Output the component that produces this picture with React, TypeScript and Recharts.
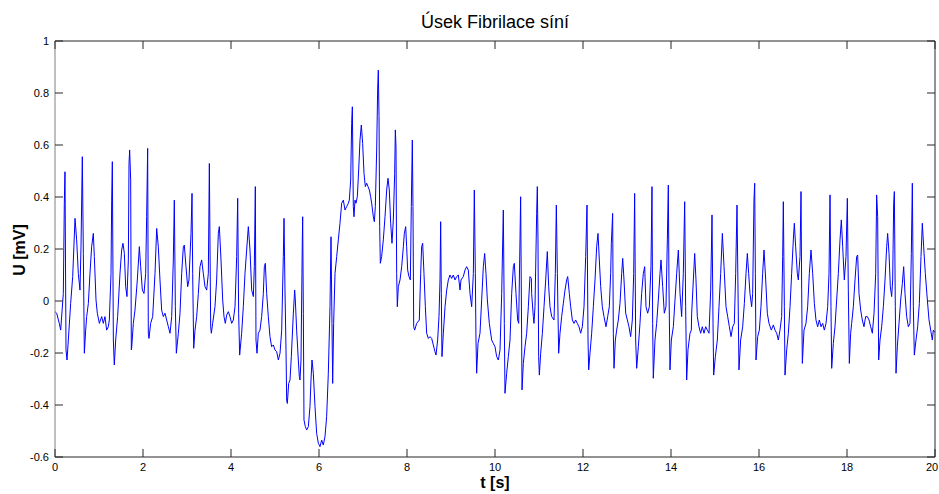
import React from 'react';
import { LineChart, Line, XAxis, YAxis, ReferenceLine } from 'recharts';

const title = 'Úsek Fibrilace síní';
const xLabel = 't [s]';
const yLabel = 'U [mV]';
const xTicks = [0, 2, 4, 6, 8, 10, 12, 14, 16, 18, 20];
const yTicks = [-0.6, -0.4, -0.2, 0, 0.2, 0.4, 0.6, 0.8, 1];

// [t (s), U (mV)]
const seg0: [number, number][] = [
  [0, -0.041], [0.038, -0.047], [0.098, -0.086], [0.129, -0.112], [0.189, 0.029], [0.212, 0.376], [0.227, 0.497],
  [0.25, -0.188], [0.273, -0.227], [0.303, -0.15], [0.356, -0.009], [0.402, 0.094], [0.455, 0.318], [0.492, 0.235],
  [0.53, 0.106], [0.568, 0.042], [0.591, 0.209], [0.621, 0.555], [0.644, 0.183], [0.667, -0.201], [0.697, -0.112],
  [0.72, -0.06], [0.758, -0.009], [0.795, 0.106], [0.833, 0.209], [0.871, 0.26], [0.894, 0.171], [0.932, 0.004],
  [0.962, -0.047], [1.008, -0.086], [1.061, -0.06], [1.098, -0.086], [1.136, -0.06], [1.174, -0.112], [1.212, -0.099],
  [1.235, -0.073], [1.273, 0.106], [1.288, 0.388], [1.303, 0.536], [1.326, -0.15], [1.348, -0.246], [1.379, -0.15],
  [1.424, -0.06], [1.477, 0.106], [1.515, 0.196], [1.545, 0.222], [1.576, 0.183], [1.606, 0.055], [1.636, 0.017],
  [1.667, 0.158], [1.682, 0.529], [1.697, 0.581], [1.72, 0.465], [1.735, -0.188],
];
const seg1: [number, number][] = [
  [1.742, -0.182], [1.78, -0.086], [1.818, -0.035], [1.871, 0.081], [1.917, 0.209], [1.947, 0.132], [1.985, 0.042],
  [2.023, 0.029], [2.061, 0.106], [2.083, 0.324], [2.106, 0.587], [2.121, -0.124], [2.136, -0.144], [2.174, -0.086],
  [2.22, -0.06], [2.273, 0.106], [2.311, 0.279], [2.348, 0.209], [2.386, 0.081], [2.424, -0.035], [2.462, -0.06],
  [2.5, -0.047], [2.538, -0.073], [2.576, -0.099], [2.614, -0.124], [2.652, -0.06], [2.689, 0.158], [2.712, 0.388],
  [2.735, -0.022], [2.758, -0.201], [2.803, -0.124], [2.841, -0.047], [2.879, 0.106], [2.917, 0.209], [2.939, 0.215],
  [2.977, 0.132], [3.015, 0.055], [3.045, 0.081], [3.091, 0.26], [3.114, 0.414], [3.129, 0.106], [3.152, -0.182],
  [3.182, -0.112], [3.22, -0.06], [3.258, 0.029], [3.295, 0.132], [3.333, 0.158], [3.371, 0.106], [3.409, 0.055],
  [3.447, 0.042], [3.485, 0.106], [3.508, 0.529], [3.538, -0.099], [3.553, -0.124],
];
const seg2: [number, number][] = [
  [3.583, -0.086], [3.636, -0.022], [3.674, 0.081], [3.712, 0.26], [3.735, 0.286], [3.773, 0.158], [3.811, 0.004],
  [3.841, -0.06], [3.871, -0.086], [3.902, -0.054], [3.939, -0.041], [3.977, -0.06], [4.015, -0.086], [4.053, -0.073],
  [4.091, -0.022], [4.129, 0.171], [4.152, 0.395], [4.174, -0.047], [4.197, -0.208], [4.242, -0.124], [4.28, -0.022],
  [4.318, 0.106], [4.356, 0.196], [4.394, 0.286], [4.432, 0.196], [4.47, 0.042], [4.508, 0.017], [4.53, 0.132],
  [4.553, 0.44], [4.568, -0.15], [4.591, -0.201], [4.621, -0.124], [4.659, -0.112], [4.697, -0.06], [4.735, 0.029],
  [4.758, 0.132], [4.78, 0.145], [4.811, 0.029], [4.848, -0.06], [4.886, -0.137], [4.924, -0.176], [4.962, -0.169],
  [5.0, -0.188], [5.038, -0.195], [5.076, -0.227], [5.114, -0.201], [5.152, -0.112], [5.189, 0.171], [5.205, 0.318],
  [5.227, 0.042], [5.25, -0.188], [5.265, -0.381], [5.28, -0.394], [5.311, -0.317], [5.341, -0.304], [5.371, -0.214],
];
const seg3: [number, number][] = [
  [5.417, -0.047], [5.447, 0.042], [5.462, 0.004], [5.492, -0.112], [5.53, -0.227], [5.553, -0.291], [5.568, -0.304],
  [5.591, -0.227], [5.621, 0.235], [5.629, 0.324], [5.644, -0.047], [5.659, -0.458], [5.689, -0.483], [5.72, -0.496],
  [5.758, -0.483], [5.795, -0.406], [5.818, -0.304], [5.841, -0.227], [5.871, -0.278], [5.909, -0.406], [5.947, -0.509],
  [5.985, -0.547], [6.023, -0.56], [6.061, -0.535], [6.098, -0.554], [6.136, -0.522], [6.174, -0.445], [6.212, -0.278],
  [6.25, -0.022], [6.273, 0.247], [6.295, -0.086], [6.311, -0.317], [6.333, -0.086], [6.364, 0.106], [6.402, 0.171],
  [6.439, 0.235], [6.477, 0.299], [6.515, 0.376], [6.553, 0.388], [6.591, 0.35], [6.629, 0.363], [6.667, 0.376],
  [6.689, 0.388], [6.72, 0.465], [6.742, 0.683], [6.758, 0.747], [6.78, 0.363], [6.795, 0.324], [6.818, 0.388],
  [6.841, 0.376], [6.871, 0.401], [6.902, 0.504], [6.932, 0.619], [6.962, 0.677], [6.992, 0.606], [7.023, 0.491],
  [7.053, 0.44], [7.083, 0.453], [7.114, 0.44], [7.144, 0.427], [7.174, 0.401], [7.197, 0.376],
];
const seg4: [number, number][] = [
  [7.235, 0.324], [7.258, 0.305], [7.28, 0.363], [7.311, 0.581], [7.333, 0.812], [7.348, 0.888], [7.364, 0.709],
  [7.379, 0.286], [7.394, 0.145], [7.424, 0.171], [7.462, 0.235], [7.5, 0.324], [7.538, 0.427], [7.568, 0.472],
  [7.598, 0.427], [7.629, 0.299], [7.659, 0.222], [7.689, 0.312], [7.72, 0.491], [7.735, 0.658], [7.75, 0.594],
  [7.765, 0.106], [7.78, -0.022], [7.803, 0.055], [7.841, 0.081], [7.879, 0.132], [7.917, 0.209], [7.939, 0.26],
  [7.97, 0.286], [7.992, 0.209], [8.015, 0.119], [8.045, 0.094], [8.076, 0.081], [8.098, 0.363], [8.121, 0.619],
  [8.136, 0.363], [8.152, -0.099], [8.174, -0.112], [8.22, -0.086], [8.28, -0.073], [8.311, 0.106], [8.333, 0.209],
  [8.356, 0.222], [8.386, 0.106], [8.417, -0.022], [8.447, -0.124], [8.485, -0.144], [8.523, -0.137], [8.561, -0.144],
  [8.598, -0.169], [8.636, -0.195], [8.659, -0.208], [8.697, -0.15], [8.727, -0.06], [8.75, 0.081], [8.765, 0.305],
  [8.78, 0.029], [8.795, -0.214], [8.826, -0.124], [8.864, -0.022], [8.902, 0.042], [8.939, 0.081], [8.977, 0.1],
];
const seg5: [number, number][] = [
  [9.015, 0.087], [9.053, 0.1], [9.091, 0.081], [9.129, 0.094], [9.167, 0.1], [9.205, 0.042], [9.227, 0.081],
  [9.28, 0.094], [9.318, 0.119], [9.356, 0.132], [9.394, 0.119], [9.432, 0.029], [9.47, -0.022], [9.508, 0.106],
  [9.53, 0.427], [9.553, 0.106], [9.568, -0.15], [9.583, -0.278], [9.614, -0.163], [9.659, -0.124], [9.697, 0.004],
  [9.735, 0.132], [9.765, 0.183], [9.795, 0.106], [9.826, 0.004], [9.871, -0.086], [9.924, -0.15], [9.962, -0.163],
  [10.0, -0.176], [10.038, -0.214], [10.076, -0.227], [10.114, -0.188], [10.152, 0.029], [10.189, 0.35],
  [10.212, -0.086], [10.227, -0.355], [10.265, -0.278], [10.303, -0.214], [10.341, -0.15], [10.379, 0.029],
  [10.417, 0.132], [10.439, 0.145], [10.477, 0.029], [10.515, -0.073], [10.538, -0.086], [10.568, 0.235],
  [10.583, 0.401], [10.598, 0.042], [10.614, -0.342], [10.644, -0.24], [10.682, -0.176], [10.72, -0.124],
  [10.758, -0.022], [10.795, 0.094], [10.826, 0.087],
];
const seg6: [number, number][] = [
  [10.833, 0.029], [10.871, -0.06], [10.886, -0.086], [10.909, -0.022], [10.947, 0.337], [10.962, 0.44],
  [10.977, 0.235], [10.992, -0.214], [11.008, -0.285], [11.038, -0.201], [11.076, -0.124], [11.114, -0.022],
  [11.152, 0.081], [11.189, 0.19], [11.22, 0.055], [11.25, -0.022], [11.288, -0.06], [11.341, -0.073], [11.371, 0.106],
  [11.394, 0.369], [11.417, 0.106], [11.447, -0.201], [11.477, -0.124], [11.515, -0.06], [11.553, -0.009],
  [11.591, 0.042], [11.629, 0.081], [11.652, 0.094], [11.689, 0.029], [11.72, -0.022], [11.758, -0.073],
  [11.795, -0.086], [11.833, -0.073], [11.871, -0.086], [11.909, -0.099], [11.947, -0.124], [11.985, -0.099],
  [12.023, -0.022], [12.061, 0.171], [12.091, 0.369], [12.114, -0.15], [12.129, -0.265], [12.159, -0.201],
  [12.197, -0.124], [12.235, -0.022], [12.273, 0.081], [12.311, 0.209], [12.341, 0.26], [12.371, 0.158],
  [12.402, 0.055], [12.439, -0.022], [12.477, -0.06], [12.523, -0.099], [12.561, -0.06], [12.598, -0.022],
  [12.629, 0.106], [12.644, 0.222],
];
const seg7: [number, number][] = [
  [12.674, 0.337], [12.689, -0.124], [12.705, -0.259], [12.735, -0.15], [12.765, -0.112], [12.803, -0.073],
  [12.841, -0.009], [12.879, 0.106], [12.902, 0.164], [12.932, 0.081], [12.97, -0.047], [13.008, -0.073],
  [13.045, -0.099], [13.083, -0.137], [13.121, -0.073], [13.152, 0.106], [13.174, 0.414], [13.197, -0.15],
  [13.22, -0.259], [13.258, -0.176], [13.295, -0.086], [13.333, 0.029], [13.371, 0.106], [13.402, 0.132],
  [13.432, -0.022], [13.47, -0.047], [13.508, -0.022], [13.545, 0.132], [13.568, 0.44], [13.583, -0.086],
  [13.598, -0.297], [13.636, -0.15], [13.674, -0.086], [13.712, 0.004], [13.75, 0.106], [13.773, 0.158],
  [13.811, 0.055], [13.848, -0.047], [13.886, -0.022], [13.917, 0.235], [13.939, 0.446], [13.955, 0.042],
  [13.977, -0.265], [14.008, -0.15], [14.053, -0.099], [14.091, 0.004], [14.129, 0.106], [14.167, 0.196],
  [14.205, 0.029], [14.242, -0.06], [14.28, 0.106], [14.311, 0.382], [14.333, -0.022], [14.356, -0.304],
  [14.386, -0.188], [14.432, -0.124], [14.462, -0.112],
];
const seg8: [number, number][] = [
  [14.47, -0.047], [14.508, 0.081], [14.538, 0.183], [14.568, 0.081], [14.598, -0.06], [14.636, -0.099],
  [14.674, -0.124], [14.712, -0.099], [14.75, -0.124], [14.788, -0.099], [14.826, -0.112], [14.864, -0.124],
  [14.902, 0.042], [14.932, 0.331], [14.955, -0.086], [14.97, -0.285], [15.008, -0.214], [15.053, -0.15],
  [15.091, -0.022], [15.129, 0.106], [15.167, 0.26], [15.205, 0.132], [15.25, -0.022], [15.288, -0.06],
  [15.326, -0.099], [15.364, -0.137], [15.402, -0.099], [15.439, -0.086], [15.47, 0.106], [15.5, 0.369],
  [15.523, 0.042], [15.545, -0.265], [15.583, -0.15], [15.629, -0.099], [15.667, -0.009], [15.705, 0.106],
  [15.735, 0.183], [15.765, 0.106], [15.795, 0.029], [15.833, -0.022], [15.856, 0.029], [15.886, 0.388],
  [15.902, 0.453], [15.917, 0.106], [15.932, -0.227], [15.97, -0.137], [16.008, -0.112], [16.045, -0.022],
  [16.083, 0.106], [16.114, 0.196], [16.152, 0.081], [16.189, -0.047], [16.227, -0.086], [16.28, -0.112],
];
const seg9: [number, number][] = [
  [16.326, -0.092], [16.364, -0.112], [16.402, -0.124], [16.439, -0.15], [16.477, -0.112], [16.515, -0.06],
  [16.538, 0.171], [16.553, 0.382], [16.576, -0.022], [16.591, -0.285], [16.629, -0.188], [16.667, -0.124],
  [16.705, -0.022], [16.742, 0.106], [16.78, 0.235], [16.803, 0.299], [16.833, 0.209], [16.871, 0.106],
  [16.894, 0.081], [16.932, 0.171], [16.955, 0.421], [16.97, 0.042], [16.985, -0.24], [17.023, -0.112],
  [17.068, -0.086], [17.106, -0.022], [17.144, 0.106], [17.182, 0.196], [17.22, 0.106], [17.258, -0.009],
  [17.295, -0.073], [17.333, -0.099], [17.371, -0.073], [17.409, -0.099], [17.447, -0.086], [17.485, -0.112],
  [17.523, -0.086], [17.561, -0.022], [17.591, 0.106], [17.614, 0.408], [17.636, -0.022], [17.652, -0.259],
  [17.689, -0.163], [17.727, -0.099], [17.765, 0.004], [17.803, 0.106], [17.841, 0.235], [17.871, 0.312],
  [17.902, 0.209], [17.939, 0.081], [17.977, 0.171], [18.008, 0.395], [18.03, 0.042], [18.053, -0.24],
  [18.083, -0.124],
];
const seg10: [number, number][] = [
  [18.106, -0.086], [18.144, -0.022], [18.182, 0.081], [18.22, 0.171], [18.242, 0.177], [18.273, 0.029],
  [18.311, -0.035], [18.348, -0.073], [18.386, -0.099], [18.424, -0.06], [18.462, -0.06], [18.5, -0.073],
  [18.538, -0.099], [18.576, -0.124], [18.614, -0.047], [18.652, 0.106], [18.674, 0.408], [18.697, 0.324],
  [18.72, -0.227], [18.75, -0.15], [18.788, -0.099], [18.826, -0.022], [18.864, 0.081], [18.902, 0.209],
  [18.924, 0.26], [18.955, 0.183], [18.985, 0.055], [19.015, 0.017], [19.038, 0.081], [19.061, 0.376],
  [19.076, 0.421], [19.098, -0.022], [19.114, -0.278], [19.144, -0.176], [19.182, -0.086], [19.22, 0.004],
  [19.258, 0.068], [19.288, 0.132], [19.318, 0.029], [19.356, -0.06], [19.394, -0.099], [19.432, -0.086],
  [19.462, 0.183], [19.485, 0.453], [19.508, -0.022], [19.53, -0.208], [19.568, -0.15], [19.606, -0.099],
  [19.644, -0.009], [19.682, 0.171], [19.712, 0.299], [19.742, 0.209], [19.78, 0.106], [19.826, 0.004],
  [19.864, -0.073], [19.902, -0.112], [19.939, -0.15], [19.962, -0.112], [19.99, -0.12],
];

const data = [...seg0, ...seg1, ...seg2, ...seg3, ...seg4, ...seg5, ...seg6, ...seg7, ...seg8, ...seg9, ...seg10]
  .map(([t, v]) => ({ t, v }));

// page-pixel layout (the wrapper is pinned at the page's top-left corner)
const W = 939;
const H = 494;
const PL = 55;
const PR = 935;
const PT = 41;
const PB = 457;
const FONT = '"Liberation Sans", Arial, Helvetica, sans-serif';
const AXIS_DARK = '#262626';
const AXIS_LEFT = '#808080';
const TICK_LEN = 8;

const XTick = (props: any) => {
  const { x, payload } = props;
  const isLast = payload.value === xTicks[xTicks.length - 1];
  return (
    <g>
      <line x1={x} x2={x} y1={PB} y2={PB - TICK_LEN} stroke={AXIS_DARK} strokeWidth={1} />
      <line x1={x} x2={x} y1={PT} y2={PT + TICK_LEN} stroke={AXIS_DARK} strokeWidth={1} />
      <text x={isLast ? x - 3 : x} y={PB + 14} textAnchor="middle" fontSize={11} fontFamily={FONT} fill="#000">
        {String(payload.value)}
      </text>
    </g>
  );
};

const YTick = (props: any) => {
  const { y, payload } = props;
  return (
    <g>
      <line x1={PL} x2={PL + TICK_LEN} y1={y} y2={y} stroke={AXIS_DARK} strokeWidth={1} />
      <line x1={PR - TICK_LEN} x2={PR} y1={y} y2={y} stroke={AXIS_DARK} strokeWidth={1} />
      <text x={PL - 6} y={y + 4} textAnchor="end" fontSize={11} fontFamily={FONT} fill="#000">
        {String(payload.value)}
      </text>
    </g>
  );
};

export default function App() {
  return (
    <div
      style={{
        position: 'absolute', left: 0, top: 0, width: W, height: H, overflow: 'hidden',
        fontFamily: FONT, background: '#fff',
      }}
    >
      <div
        style={{
          position: 'absolute', left: PL, width: PR - PL, top: 12, textAlign: 'center',
          fontSize: 18, lineHeight: '20px', color: '#000',
        }}
      >
        {title}
      </div>
      <LineChart
        width={W}
        height={H}
        data={data}
        margin={{ top: PT, right: W - PR, bottom: 0, left: 0 }}
      >
        <XAxis
          dataKey="t"
          type="number"
          domain={[0, 20]}
          ticks={xTicks}
          interval={0}
          height={H - PB}
          tickLine={false}
          tick={<XTick />}
          axisLine={{ stroke: AXIS_DARK }}
        />
        <YAxis
          type="number"
          domain={[-0.6, 1]}
          ticks={yTicks}
          interval={0}
          width={PL}
          tickLine={false}
          tick={<YTick />}
          axisLine={{ stroke: AXIS_LEFT }}
        />
        <ReferenceLine y={1} stroke={AXIS_DARK} strokeWidth={1} />
        <ReferenceLine x={20} stroke={AXIS_DARK} strokeWidth={1} />
        <Line
          type="linear"
          dataKey="v"
          stroke="#0000ff"
          strokeWidth={1}
          dot={false}
          isAnimationActive={false}
        />
      </LineChart>
      <div
        style={{
          position: 'absolute', left: PL, width: PR - PL, top: 473, textAlign: 'center',
          fontSize: 16, fontWeight: 'bold', lineHeight: '20px', color: '#000',
        }}
      >
        {xLabel}
      </div>
      <div
        style={{
          position: 'absolute', left: 20, top: 250, transform: 'translate(-50%, -50%) rotate(-90deg)',
          fontSize: 16, fontWeight: 'bold', lineHeight: '20px', whiteSpace: 'nowrap', color: '#000',
        }}
      >
        {yLabel}
      </div>
    </div>
  );
}
